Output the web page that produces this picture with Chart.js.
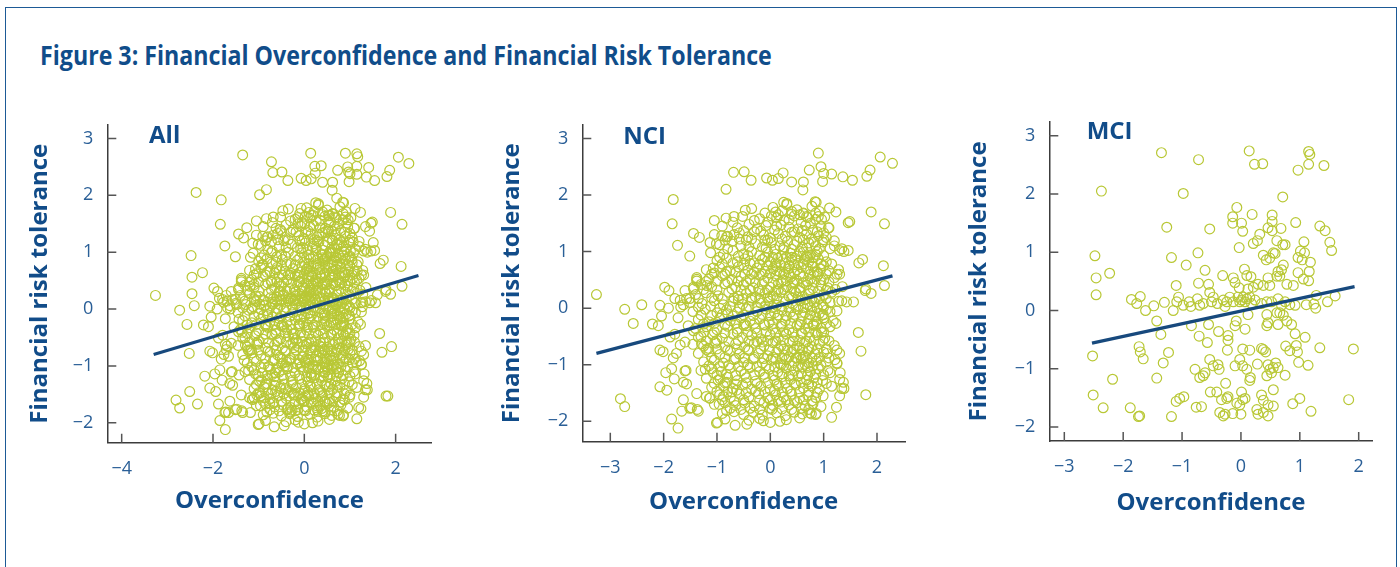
<!DOCTYPE html>
<html>
<head>
<meta charset="utf-8">
<script src="https://cdn.jsdelivr.net/npm/chart.js@4.4.1/dist/chart.umd.min.js"></script>
<style>
html,body{margin:0;padding:0;background:#fff;}
body{width:1400px;height:567px;position:relative;overflow:hidden;font-family:'Open Sans',sans-serif;}
#frame{position:absolute;left:5px;top:7px;width:1392px;height:620px;border:1px solid #1d5a96;border-bottom:none;box-sizing:border-box;}
#title{position:absolute;left:40px;top:37px;font-weight:bold;font-size:26px;color:#104d8a;white-space:nowrap;transform-origin:0 0;}
canvas{position:absolute;}
</style>
</head>
<body>
<div id="frame"></div>
<div id="title">Figure 3: Financial Overconfidence and Financial Risk Tolerance</div>
<canvas id="c-all" width="428" height="440" style="left:22px;top:100px"></canvas>
<canvas id="c-nci" width="431" height="440" style="left:494px;top:100px"></canvas>
<canvas id="c-mci" width="431" height="443" style="left:961px;top:97px"></canvas>
<script>
'use strict';

// tick labels
const yTicks = [-2, -1, 0, 1, 2, 3];
const allXTicks = [-4, -2, 0, 2];
const nciXTicks = [-3, -2, -1, 0, 1, 2];
const mciXTicks = [-3, -2, -1, 0, 1, 2];

// fitted regression lines (end points)
const allFitX = [-3.30, 2.50], allFitY = [-0.80, 0.59];
const nciFitX = [-3.26, 2.29], nciFitY = [-0.80, 0.57];
const mciFitX = [-2.53, 1.93], mciFitY = [-0.56, 0.41];

// NCI respondents [overconfidence, risk tolerance]
const nciPoints = [
  [-3.26,0.24],[-2.73,-0.02],[-2.57,-0.27],[-2.41,0.06],[-2.81,-1.60],[-2.73,-1.74],
  [-1.82,1.92],[-1.84,1.49],[-1.74,1.11],[-1.51,0.92],[-1.44,1.32],[-1.33,1.25],
  [-0.83,2.10],[-0.69,2.40],[-0.49,2.41],[-0.36,2.26],[-0.47,1.73],
  [-1.05,1.55],[-0.83,1.59],[-0.68,1.62],[-1.13,1.16],[-1.01,1.14],
  [-0.07,2.30],[0.04,2.26],[0.15,2.29],[0.24,2.39],[0.40,2.23],[0.62,2.23],[0.61,2.09],
  [0.73,2.44],[0.90,2.74],[0.95,2.50],[1.00,2.38],[0.98,2.24],[1.15,2.37],[1.36,2.32],[1.54,2.26],
  [1.81,2.33],[1.87,2.44],[2.06,2.67],[2.29,2.56],
  [1.89,1.70],[2.14,1.49],[1.46,1.51],[1.49,1.53],[0.84,1.88],[1.11,1.77],[1.23,1.70],
  [1.66,0.80],[1.73,0.86],[2.12,0.75],[2.14,0.40],[1.89,0.26],[1.79,0.34],[1.56,0.11],[1.43,0.11],
  [1.65,-0.43],[1.70,-0.76],[1.79,-1.53],[1.24,-1.75],[1.15,-1.93],[1.38,-1.42],
  [0.86,-1.86],[0.74,-1.85],[0.99,-1.55],[0.00,-2.02],[0.18,-2.00],[0.03,-1.79],[-0.13,-1.99],
  [-0.66,-2.07],[-0.44,-2.05],[-0.99,-2.02],[-1.13,-1.59],
  [-1.73,-2.12],[-1.85,-1.96],[-1.66,-1.82],[-1.35,-1.82],[-1.48,-1.76],
  [-2.07,-1.39],[-1.94,-1.45],[-1.96,-1.14],[-1.80,-1.25],[-1.85,-1.07],[-1.58,-1.10],[-1.63,-1.31],[-1.38,-1.51],
  [-2.07,-0.74],[-2.01,-0.77],[-1.82,-0.88],[-1.76,-0.80],
  [-2.21,-0.28],[-2.10,-0.31],[-2.04,-0.14],[-1.91,0.00],[-2.07,0.05],[-1.98,0.37],[-1.90,0.31],[-1.79,0.17],[-1.68,0.02],
  [-1.60,0.31],[-1.51,0.17],[-1.38,0.51],[-1.44,0.37],
  [0.86,1.87],[0.25,1.87],[0.31,1.85],[0.40,1.71],[0.15,1.65],[0.62,1.67],[0.68,1.62],[0.96,1.57],[1.09,1.42],
  [1.34,1.05],[1.46,1.02],[1.28,0.68],[1.30,0.60],
  [-1.38,0.54],[-1.10,0.60],[-1.07,0.71],[-0.82,0.65],[-0.91,1.28],[-0.82,1.26],[-0.68,1.30],[-0.58,1.22],
  [-1.88,-0.51],[-1.79,-0.46],[-1.69,-0.65],[-1.60,-0.60],[-1.69,0.14],[-1.63,0.06],[-1.57,0.17],[-1.73,-0.17],
  [-1.44,0.34],[-1.38,0.48],[-1.19,0.40],[-1.54,-0.31],[-1.44,-0.40],[-1.35,-0.51],[-1.29,-0.63],[-1.16,-0.71],[-1.04,-0.60],
  [-1.22,-1.08],[-1.07,-1.14],[-0.94,-1.25],[-0.82,-1.31],
  [-1.57,-1.34],[-1.60,-1.11],[-1.51,-1.77],[-1.37,-1.79],[-1.63,-1.62],
  [-1.01,-2.03],[-1.14,-1.59],[-0.96,-1.70],[-0.82,-1.81],[-0.88,-1.56],[-0.72,-1.48],[-0.63,-1.45],
  [1.31,-1.14],[1.37,-1.31],[1.34,-1.42],[1.25,-0.74],[1.25,-0.97],[0.77,-1.87],
  [0.99,-0.57],[1.06,-0.80],[1.21,-0.91],[1.12,-1.14],[0.99,-0.11],[1.18,-0.23],[0.87,-0.28],[0.96,-0.43],
  [1.23,-0.27],[1.12,-0.06],[1.34,0.13],[1.78,0.31],
  // dense core
  [0.05,1.78],[0.22,1.72],[0.31,1.83],[0.50,1.74],[0.62,1.68],[0.78,1.80],[0.92,1.71],[-0.35,1.76],[0.40,1.66],
  [-0.52,1.62],[-0.20,1.58],[0.12,1.60],[0.26,1.55],[0.45,1.63],[0.58,1.52],[0.70,1.60],[0.85,1.57],[1.02,1.61],[-0.05,1.52],
  [-0.90,1.45],[-0.62,1.42],[-0.40,1.48],[-0.25,1.40],[-0.08,1.46],[0.08,1.38],[0.20,1.47],[0.35,1.43],[0.52,1.40],[0.66,1.46],[0.80,1.38],[0.95,1.44],[1.10,1.42],
  [-1.05,1.30],[-0.80,1.27],[-0.58,1.33],[-0.42,1.26],[-0.30,1.35],[-0.12,1.29],[0.00,1.24],[0.15,1.32],[0.28,1.27],[0.40,1.34],[0.55,1.25],[0.68,1.31],[0.77,1.22],[0.90,1.28],[1.05,1.25],[1.20,1.19],
  [-0.95,1.12],[-0.72,1.18],[-0.55,1.10],[-0.45,1.20],[-0.28,1.14],[-0.15,1.08],[0.02,1.16],[0.18,1.10],[0.32,1.18],[0.45,1.12],[0.60,1.08],[0.72,1.15],[0.85,1.10],[0.98,1.17],[1.12,1.05],[1.30,1.02],[1.38,1.00],
  [-1.12,0.98],[-0.88,0.95],[-0.70,1.02],[-0.50,0.96],[-0.35,1.00],[-0.20,0.93],[-0.05,0.99],[0.10,0.95],[0.25,1.03],[0.38,0.97],[0.50,0.92],[0.62,0.99],[0.75,0.94],[0.88,1.00],[1.00,0.93],[0.30,0.90],
  [-1.00,0.84],[-0.82,0.88],[-0.62,0.82],[-0.48,0.87],[-0.30,0.80],[-0.15,0.86],[0.00,0.82],[0.14,0.88],[0.27,0.80],[0.40,0.85],[0.52,0.79],[0.65,0.86],[0.78,0.80],[0.90,0.87],[1.05,0.82],[0.20,0.76],[0.58,0.72],
  [-1.20,0.68],[-0.95,0.72],[-0.75,0.66],[-0.60,0.73],[-0.42,0.67],[-0.25,0.71],[-0.10,0.65],[0.05,0.70],[0.18,0.64],[0.33,0.69],[0.45,0.63],[0.70,0.70],[0.82,0.64],[0.95,0.69],[1.10,0.66],[1.25,0.60],
  [-1.15,0.52],[-0.90,0.57],[-0.72,0.50],[-0.55,0.56],[-0.38,0.51],[-0.20,0.58],[-0.05,0.53],[0.10,0.57],[0.24,0.50],[0.38,0.55],[0.50,0.49],[0.62,0.56],[0.75,0.51],[0.88,0.57],[1.00,0.50],[1.20,0.54],
  [-1.30,0.42],[-1.10,0.38],[-0.85,0.43],[-0.65,0.37],[-0.50,0.41],[-0.32,0.36],[-0.15,0.42],[0.00,0.37],[0.15,0.43],[0.30,0.38],[0.42,0.44],[0.55,0.36],[0.68,0.41],[0.80,0.35],[0.95,0.40],[1.08,0.36],[1.35,0.38],
  [-1.40,0.24],[-1.20,0.27],[-0.98,0.22],[-0.78,0.28],[-0.60,0.21],[-0.45,0.26],[-0.28,0.20],[-0.10,0.27],[0.05,0.22],[0.20,0.28],[0.35,0.21],[0.48,0.27],[0.60,0.20],[0.72,0.26],[0.85,0.19],[1.00,0.24],[1.15,0.28],
  [-1.50,0.10],[-1.28,0.08],[-1.05,0.13],[-0.88,0.06],[-0.70,0.12],[-0.52,0.07],[-0.35,0.14],[-0.18,0.09],[-0.02,0.12],[0.12,0.05],[0.28,0.11],[0.42,0.07],[0.56,0.13],[0.70,0.06],[0.82,0.10],[0.98,0.05],[1.12,0.10],[1.28,0.12],
  [-1.45,-0.06],[-1.22,-0.02],[-1.00,-0.08],[-0.82,-0.03],[-0.62,-0.07],[-0.45,-0.01],[-0.25,-0.06],[-0.08,-0.02],[0.08,-0.08],[0.22,-0.03],[0.38,-0.07],[0.52,-0.02],[0.65,-0.08],[0.78,-0.04],[0.92,-0.09],[1.05,-0.03],[1.25,-0.05],
  [-1.35,-0.20],[-1.15,-0.24],[-0.95,-0.18],[-0.75,-0.22],[-0.55,-0.17],[-0.38,-0.23],[-0.20,-0.19],[-0.02,-0.25],[0.12,-0.18],[0.28,-0.22],[0.42,-0.16],[0.58,-0.24],[0.72,-0.19],[0.86,-0.23],[1.00,-0.17],
  [-1.40,-0.36],[-1.20,-0.33],[-1.00,-0.38],[-0.80,-0.32],[-0.62,-0.37],[-0.45,-0.31],[-0.28,-0.36],[-0.10,-0.30],[0.05,-0.37],[0.20,-0.32],[0.35,-0.38],[0.50,-0.31],[0.65,-0.36],[0.80,-0.30],[0.95,-0.35],[1.12,-0.33],
  [-1.30,-0.50],[-1.08,-0.47],[-0.90,-0.53],[-0.70,-0.46],[-0.52,-0.52],[-0.35,-0.48],[-0.18,-0.54],[0.00,-0.47],[0.15,-0.53],[0.30,-0.46],[0.45,-0.51],[0.60,-0.45],[0.74,-0.52],[0.88,-0.47],[1.02,-0.53],
  [-1.45,-0.64],[-1.25,-0.67],[-1.02,-0.62],[-0.85,-0.68],[-0.65,-0.63],[-0.48,-0.69],[-0.30,-0.62],[-0.12,-0.67],[0.05,-0.61],[0.20,-0.66],[0.36,-0.60],[0.50,-0.67],[0.64,-0.62],[0.78,-0.68],[0.92,-0.63],[1.20,-0.66],
  [-1.35,-0.80],[-1.15,-0.77],[-0.95,-0.82],[-0.75,-0.76],[-0.58,-0.81],[-0.40,-0.75],[-0.22,-0.80],[-0.05,-0.84],[0.12,-0.78],[0.26,-0.83],[0.40,-0.77],[0.55,-0.82],[0.70,-0.76],[0.84,-0.81],[1.00,-0.78],[1.30,-0.80],
  [-1.25,-0.95],[-1.05,-0.92],[-0.88,-0.97],[-0.68,-0.91],[-0.50,-0.96],[-0.32,-0.90],[-0.15,-0.97],[0.02,-0.92],[0.18,-0.98],[0.30,-0.91],[0.44,-0.96],[0.58,-0.90],[0.72,-0.97],[0.86,-0.93],[1.05,-0.95],[1.25,-0.98],
  [-1.30,-1.10],[-1.10,-1.07],[-0.92,-1.12],[-0.75,-1.06],[-0.55,-1.11],[-0.38,-1.05],[-0.20,-1.12],[-0.02,-1.08],[0.14,-1.13],[0.30,-1.06],[0.45,-1.10],[0.60,-1.04],[0.75,-1.12],[0.90,-1.07],[1.08,-1.10],
  [-1.20,-1.24],[-0.98,-1.27],[-0.80,-1.22],[-0.62,-1.28],[-0.45,-1.23],[-0.28,-1.29],[-0.10,-1.22],[0.08,-1.27],[0.22,-1.21],[0.38,-1.26],[0.52,-1.20],[0.68,-1.27],[0.82,-1.23],[0.98,-1.28],[1.30,-1.26],
  [-1.10,-1.40],[-0.88,-1.37],[-0.70,-1.42],[-0.52,-1.36],[-0.35,-1.43],[-0.18,-1.38],[0.00,-1.44],[0.15,-1.37],[0.32,-1.42],[0.48,-1.36],[0.62,-1.41],[0.78,-1.37],[0.92,-1.43],[1.15,-1.38],
  [-1.20,-1.56],[-0.95,-1.53],[-0.75,-1.58],[-0.58,-1.52],[-0.40,-1.57],[-0.22,-1.51],[-0.05,-1.58],[0.10,-1.53],[0.25,-1.57],[0.40,-1.52],[0.55,-1.59],[0.70,-1.54],[0.85,-1.58],[1.30,-1.55],
  [-1.05,-1.70],[-0.85,-1.67],[-0.65,-1.72],[-0.48,-1.68],[-0.30,-1.73],[-0.12,-1.67],[0.05,-1.72],[0.20,-1.66],[0.35,-1.71],[0.50,-1.67],[0.65,-1.73],[0.80,-1.69],[0.95,-1.74],
  [-0.90,-1.86],[-0.68,-1.83],[-0.50,-1.88],[-0.32,-1.84],[-0.15,-1.89],[0.12,-1.85],[0.28,-1.90],[0.45,-1.84],[0.60,-1.87],[0.85,-1.88],
  [-0.40,-1.98],[-0.20,-1.95],[0.30,-1.97],[0.55,-1.94],[-0.85,-1.96],
  [0.35,0.75],[0.50,0.68],[0.62,0.78],[0.80,0.74],[0.90,0.60],[0.25,0.60],[0.40,0.90],[0.55,1.00],[0.70,0.90],[0.85,0.95],
  [0.15,0.33],[0.30,0.48],[0.45,0.30],[0.62,0.45],[0.10,-0.90],[0.25,-0.72],[0.40,-1.02],[0.55,-0.70],[0.70,-1.05],[0.35,-1.20],
  [0.50,-0.88],[0.20,-1.00],[0.65,-0.85],[-0.20,0.30],[-0.35,0.60],[-0.60,0.15],[-0.80,-0.10],[-0.50,-0.30],[-0.15,-0.60],[0.00,0.20],[0.10,0.75],[-0.10,1.20],
  [-0.10,1.68],[0.10,1.70],[0.55,1.65],[0.85,1.68],
  [-0.70,1.52],[-0.30,1.55],[0.02,1.63],[0.35,1.56],[0.75,1.50],[0.90,1.62],
  [-0.50,1.37],[-0.18,1.36],[0.12,1.45],[0.45,1.35],[0.60,1.37],[0.88,1.35],[1.00,1.33],
  [-0.85,1.20],[-0.35,1.22],[-0.05,1.20],[0.22,1.22],[0.50,1.18],[0.62,1.21],[0.82,1.17],[1.00,1.21],
  [-0.80,1.05],[-0.40,1.08],[-0.08,1.06],[0.08,1.04],[0.26,1.08],[0.40,1.04],[0.68,1.06],[0.92,1.05],[1.20,1.10],
  [-0.95,0.90],[-0.60,0.92],[-0.42,0.93],[-0.10,0.90],[0.05,0.90],[0.20,0.92],[0.46,0.88],[0.68,0.92],[0.80,0.89],[0.95,0.78],
  [-0.90,0.78],[-0.70,0.80],[-0.50,0.76],[-0.38,0.79],[-0.20,0.78],[-0.05,0.75],[0.10,0.80],[0.28,0.72],[0.45,0.77],[0.72,0.82],[1.00,0.75],[1.15,0.78],
  [-1.05,0.62],[-0.85,0.60],[-0.65,0.63],[-0.48,0.60],[-0.30,0.63],[-0.15,0.60],[0.00,0.62],[0.12,0.66],[0.35,0.62],[0.55,0.60],[0.75,0.60],[0.88,0.64],[1.05,0.60],
  [-1.20,0.47],[-1.00,0.48],[-0.80,0.46],[-0.60,0.48],[-0.45,0.47],[-0.28,0.45],[-0.12,0.48],[0.05,0.45],[0.20,0.46],[0.45,0.45],[0.70,0.47],[0.82,0.46],[0.95,0.50],[1.10,0.46],
  [-1.25,0.33],[-1.00,0.32],[-0.72,0.34],[-0.55,0.31],[-0.38,0.32],[-0.22,0.34],[-0.05,0.32],[0.10,0.30],[0.25,0.33],[0.40,0.35],[0.55,0.31],[0.75,0.32],[0.90,0.30],[1.05,0.32],[1.22,0.33],
  [-1.35,0.17],[-1.10,0.18],[-0.90,0.16],[-0.68,0.18],[-0.52,0.17],[-0.35,0.18],[-0.20,0.16],[-0.05,0.18],[0.12,0.17],[0.25,0.16],[0.40,0.18],[0.52,0.19],[0.65,0.15],[0.78,0.16],[0.92,0.17],[1.05,0.17],
  [-1.35,0.02],[-1.12,0.04],[-0.95,0.00],[-0.75,0.03],[-0.58,0.01],[-0.40,0.03],[-0.25,0.02],[-0.10,0.04],[0.05,0.01],[0.20,0.03],[0.35,0.00],[0.48,0.03],[0.62,0.01],[0.75,0.02],[0.88,0.00],[1.00,0.02],
  [-1.30,-0.12],[-1.10,-0.13],[-0.90,-0.11],[-0.70,-0.14],[-0.50,-0.12],[-0.32,-0.13],[-0.15,-0.11],[0.00,-0.13],[0.15,-0.12],[0.30,-0.14],[0.45,-0.11],[0.60,-0.13],[0.75,-0.12],[0.85,-0.15],[0.98,-0.12],
  [-1.25,-0.28],[-1.05,-0.27],[-0.85,-0.29],[-0.65,-0.27],[-0.48,-0.28],[-0.30,-0.27],[-0.12,-0.29],[0.05,-0.27],[0.22,-0.28],[0.38,-0.27],[0.55,-0.29],[0.70,-0.27],[0.82,-0.29],[1.05,-0.27],
  [-1.25,-0.43],[-1.05,-0.42],[-0.85,-0.44],[-0.62,-0.43],[-0.42,-0.42],[-0.25,-0.44],[-0.08,-0.42],[0.10,-0.44],[0.25,-0.42],[0.42,-0.43],[0.58,-0.44],[0.72,-0.42],[0.85,-0.43],[1.00,-0.42],
  [-1.20,-0.58],[-1.00,-0.57],[-0.78,-0.59],[-0.60,-0.57],[-0.40,-0.58],[-0.25,-0.59],[-0.05,-0.57],[0.10,-0.58],[0.25,-0.56],[0.42,-0.58],[0.55,-0.57],[0.68,-0.59],[0.82,-0.57],[1.10,-0.58],
  [-1.20,-0.73],[-1.00,-0.72],[-0.80,-0.74],[-0.62,-0.72],[-0.42,-0.73],[-0.18,-0.72],[-0.02,-0.74],[0.15,-0.72],[0.32,-0.74],[0.45,-0.73],[0.60,-0.74],[0.72,-0.71],[0.88,-0.73],[1.05,-0.72],
  [-1.10,-0.88],[-0.85,-0.87],[-0.65,-0.89],[-0.48,-0.88],[-0.30,-0.87],[-0.12,-0.89],[0.05,-0.87],[0.22,-0.89],[0.35,-0.86],[0.48,-0.88],[0.62,-0.87],[0.78,-0.88],[0.92,-0.87],[1.10,-0.88],
  [-1.15,-1.02],[-0.95,-1.03],[-0.78,-1.01],[-0.60,-1.03],[-0.42,-1.00],[-0.25,-1.03],[-0.08,-1.02],[0.08,-1.04],[0.25,-1.02],[0.52,-1.03],[0.65,-0.99],[0.80,-1.02],[0.95,-1.01],
  [-1.00,-1.18],[-0.82,-1.17],[-0.65,-1.19],[-0.48,-1.17],[-0.30,-1.18],[-0.12,-1.17],[0.05,-1.19],[0.22,-1.16],[0.42,-1.18],[0.58,-1.16],[0.70,-1.19],[0.85,-1.17],[1.00,-1.18],
  [-1.05,-1.33],[-0.85,-1.32],[-0.65,-1.34],[-0.45,-1.32],[-0.25,-1.33],[-0.05,-1.32],[0.12,-1.34],[0.28,-1.32],[0.45,-1.33],[0.58,-1.31],[0.72,-1.34],[0.88,-1.32],[1.05,-1.33],
  [-1.00,-1.47],[-0.80,-1.48],[-0.45,-1.49],[-0.28,-1.47],[-0.10,-1.48],[0.08,-1.46],[0.22,-1.49],[0.38,-1.47],[0.55,-1.48],[0.72,-1.47],[0.88,-1.49],
  [-0.90,-1.62],[-0.68,-1.64],[-0.50,-1.62],[-0.20,-1.63],[0.00,-1.62],[0.15,-1.64],[0.30,-1.62],[0.45,-1.63],[0.62,-1.62],[0.78,-1.64],
  [-0.75,-1.77],[-0.55,-1.79],[-0.38,-1.77],[-0.20,-1.79],[0.00,-1.77],[0.22,-1.78],[0.40,-1.79],[0.58,-1.77],[0.72,-1.79]
];

// MCI respondents [overconfidence, risk tolerance]
const mciPoints = [
  [-1.35,2.71],[-0.72,2.59],[0.14,2.74],[0.23,2.51],[0.37,2.52],[1.15,2.73],[1.17,2.68],[0.97,2.41],[1.15,2.51],[1.41,2.49],
  [-2.37,2.05],[-0.98,2.01],[0.71,1.95],[-0.07,1.77],[-0.14,1.61],[-0.14,1.50],[0.01,1.50],[0.03,1.36],[0.19,1.65],
  [0.53,1.64],[0.53,1.53],[0.46,1.42],[0.53,1.37],[0.68,1.41],[0.93,1.51],[1.34,1.45],[1.43,1.37],[-1.26,1.43],[-0.53,1.40],
  [0.32,1.31],[0.21,1.15],[0.28,1.20],[0.61,1.20],[0.71,1.13],[0.75,1.13],
  [1.07,1.18],[1.01,1.02],[1.08,0.99],[0.97,0.91],[1.04,0.87],[1.18,0.83],[1.16,0.67],[1.51,1.17],[1.54,1.03],
  [-0.03,1.08],[-0.73,0.99],[-1.18,0.91],[-0.93,0.78],[-2.48,0.94],[-2.46,0.56],[-2.46,0.27],[-2.23,0.64],
  [0.38,0.95],[0.43,0.87],[0.55,0.99],[0.49,0.90],[0.58,0.98],[0.72,0.78],[0.69,0.70],[0.63,0.67],[0.61,0.59],[0.66,0.59],
  [0.46,0.56],[0.49,0.43],[0.38,0.43],[-0.61,0.69],[0.06,0.71],[0.10,0.60],[0.17,0.58],[-0.13,0.56],[-0.10,0.48],[-0.31,0.60],
  [-0.72,0.47],[-0.55,0.45],[-1.10,0.43],[0.29,0.45],[0.78,0.45],[0.89,0.43],[1.15,0.51],[1.06,0.54],[0.97,0.65],
  [-1.86,0.19],[-1.77,0.12],[-1.71,0.24],[-1.62,0.00],[-1.48,0.08],[-1.30,0.14],[-1.15,0.00],[-1.09,0.15],[-1.06,0.23],
  [-0.98,0.09],[-0.88,0.15],[-0.85,0.07],[-0.74,0.20],[-0.70,0.09],[-0.64,0.12],[-0.53,0.31],[-0.47,0.23],[-0.50,0.15],
  [-0.40,0.12],[-0.30,0.18],[-0.24,0.15],[-0.27,0.07],[-0.19,0.23],[-0.13,0.15],[-0.05,0.23],[-0.02,0.15],[0.01,0.18],
  [0.04,0.23],[0.07,0.15],[0.10,0.20],[0.15,0.23],[0.18,0.12],[0.24,0.18],[-0.03,0.39],[0.12,0.37],[0.21,0.40],
  [0.35,0.12],[0.44,0.15],[0.52,0.15],[0.63,0.20],[0.69,0.09],[0.75,0.15],[0.83,0.10],[0.92,0.09],
  [1.11,0.10],[1.24,0.11],[1.27,0.04],[1.28,0.26],[1.47,0.15],[1.60,0.25],[0.61,-0.04],[0.66,-0.04],[0.72,-0.08],
  [-1.43,-0.18],[-1.36,-0.41],[-0.84,-0.26],[-0.71,-0.44],[-0.55,-0.24],[-0.57,-0.55],[-0.38,-0.36],
  [-0.22,-0.43],[-0.22,-0.51],[-0.23,-0.68],[-0.08,-0.18],[-0.10,-0.26],[0.07,-0.32],[0.12,-0.07],
  [0.44,-0.07],[0.46,-0.21],[0.44,-0.26],[0.63,-0.24],[0.78,-0.18],[0.86,-0.24],[0.92,-0.40],[1.09,-0.46],
  [0.76,-0.61],[0.83,-0.69],[0.94,-0.60],[0.96,-0.71],[0.98,-0.89],[1.34,-0.64],[1.91,-0.66],
  [-1.73,-0.62],[-1.71,-0.71],[-1.66,-0.83],[-1.23,-0.72],[-1.32,-0.90],[-2.52,-0.78],[-2.18,-1.18],[-1.43,-1.16],
  [-2.51,-1.45],[-2.34,-1.67],[-1.88,-1.67],[-1.74,-1.82],[-1.72,-1.81],[-1.18,-1.82],[-1.10,-1.56],[-1.04,-1.51],[-0.97,-1.48],
  [-0.78,-1.01],[-0.70,-1.15],[-0.64,-1.12],[-0.61,-1.07],[-0.76,-1.66],[-0.67,-1.65],
  [-0.53,-0.84],[-0.39,-0.93],[-0.37,-1.01],[-0.47,-0.95],[-0.52,-1.40],[-0.41,-1.40],[-0.33,-1.53],[-0.24,-1.51],[-0.22,-1.48],
  [-0.26,-1.25],[-0.36,-1.75],[-0.30,-1.81],[-0.27,-1.78],[-0.14,-1.77],[0.00,-1.78],
  [-0.07,-1.59],[-0.02,-1.62],[0.03,-1.53],[0.07,-1.51],[0.01,-1.40],[-0.10,-0.95],[-0.02,-0.84],[0.03,-0.95],
  [0.10,-1.01],[0.16,-1.15],[0.15,-1.20],[0.28,-0.92],[0.03,-0.66],[0.15,-0.68],[0.35,-0.65],[0.38,-0.67],[0.42,-0.71],
  [0.46,-0.93],[0.49,-1.01],[0.55,-0.98],[0.59,-0.90],[0.52,-1.07],[0.44,-1.12],[0.63,-0.98],[0.75,-1.11],[1.14,-0.94],
  [0.27,-1.70],[0.29,-1.78],[0.38,-1.75],[0.35,-1.45],[0.38,-1.54],[0.46,-1.62],[0.55,-1.64],[0.46,-1.81],[0.55,-1.36],
  [0.88,-1.60],[1.00,-1.51],[1.19,-1.73],[1.83,-1.53]
];

// whole sample = NCI + MCI
const allPoints = nciPoints.concat(mciPoints);

const DOT = '#b9c836';
const NAVY = '#17497d';
const BLUE = '#2a5f97';
const TITLE = '#114c89';
const AXIS = '#3c3c3c';

// ticks in the reference point into the plot area
const inwardTicks = {
  id: 'inwardTicks',
  afterDatasetsDraw(chart) {
    const {ctx, chartArea: a, scales: {x, y}} = chart;
    ctx.save();
    ctx.strokeStyle = '#555';
    ctx.lineWidth = 1.5;
    ctx.beginPath();
    x.ticks.forEach(t => { const p = x.getPixelForValue(t.value); ctx.moveTo(p, a.bottom); ctx.lineTo(p, a.bottom - 9); });
    y.ticks.forEach(t => { const p = y.getPixelForValue(t.value); ctx.moveTo(a.left, p); ctx.lineTo(a.left + 9, p); });
    ctx.stroke();
    ctx.restore();
  }
};

const panelLabel = {
  id: 'panelLabel',
  afterDraw(chart, args, opts) {
    const ctx = chart.ctx;
    ctx.save();
    ctx.font = 'bold 24px "Open Sans"';
    ctx.fillStyle = TITLE;
    ctx.textBaseline = 'alphabetic';
    ctx.fillText(opts.text, opts.x, opts.y);
    ctx.restore();
  }
};

function fmtTick(v) { return v < 0 ? '\u2212' + Math.abs(v) : String(v); }

function renderPanel(id, points, fitX, fitY, xTicks, o) {
  const ctx = document.getElementById(id);
  return new Chart(ctx, {
    type: 'scatter',
    data: {
      datasets: [
        {type:'line', data: fitX.map((v,i)=>({x:v, y:fitY[i]})), borderColor: NAVY, borderWidth: 3.2, pointRadius: 0, fill: false},
        {data: points.map(p=>({x:p[0], y:p[1]})), pointStyle:'circle', pointRadius: 4.9, borderWidth: 1.2, borderColor: DOT, backgroundColor: 'rgba(0,0,0,0)'}
      ]
    },
    options: {
      responsive: false, animation: false, devicePixelRatio: 1,
      layout: {padding: {top: 13, right: o.padR, left: 0, bottom: 0}},
      plugins: {legend:{display:false}, tooltip:{enabled:false}, panelLabel: o.label},
      scales: {
        x: {
          type:'linear', min:o.xMin, max:o.xMax,
          afterBuildTicks: s => { s.ticks = xTicks.map(v=>({value:v})); },
          afterFit: s => { s.height = o.xH; },
          grid:{display:false, drawTicks:false},
          border:{display:true, color:AXIS, width:1.5},
          ticks:{color:BLUE, font:{family:'Open Sans', size:18}, padding:15, maxRotation:0, callback: fmtTick},
          title:{display:true, text:'Overconfidence', color:TITLE, font:{family:'Open Sans', size:24, weight:'bold'}, padding:{top:0, bottom:o.xtPad}}
        },
        y: {
          type:'linear', min:o.yMin, max:o.yMax,
          afterBuildTicks: s => { s.ticks = yTicks.map(v=>({value:v})); },
          afterFit: s => { s.width = o.yW; },
          grid:{display:false, drawTicks:false},
          border:{display:true, color:AXIS, width:1.5},
          ticks:{color:BLUE, font:{family:'Open Sans', size:18}, padding:14, callback: fmtTick},
          title:{display:true, text:'Financial risk tolerance', color:TITLE, font:{family:'Open Sans', size:24, weight:'bold'}, padding:{top:4, bottom:0}}
        }
      }
    },
    plugins: [inwardTicks, panelLabel]
  });
}

renderPanel('c-all', allPoints, allFitX, allFitY, allXTicks,
  {xMin:-4.315, xMax:2.79, yMin:-2.35, yMax:3.24, yW:85.3, xH:97.3, padR:18.3, xtPad:24, label:{text:'All', x:127, y:42.7}});
renderPanel('c-nci', nciPoints, nciFitX, nciFitY, nciXTicks,
  {xMin:-3.525, xMax:2.525, yMin:-2.36, yMax:3.24, yW:88.3, xH:98.3, padR:20, xtPad:23, label:{text:'NCI', x:129.3, y:44}});
renderPanel('c-mci', mciPoints, mciFitX, mciFitY, mciXTicks,
  {xMin:-3.255, xMax:2.238, yMin:-2.24, yMax:3.24, yW:88.3, xH:99, padR:19.3, xtPad:22, label:{text:'MCI', x:125.7, y:42.3}});

// squeeze the heading to the width it has in the reference
const title = document.getElementById('title');
title.style.transform = 'scaleX(' + (732 / title.offsetWidth) + ')';
</script>
</body>
</html>
